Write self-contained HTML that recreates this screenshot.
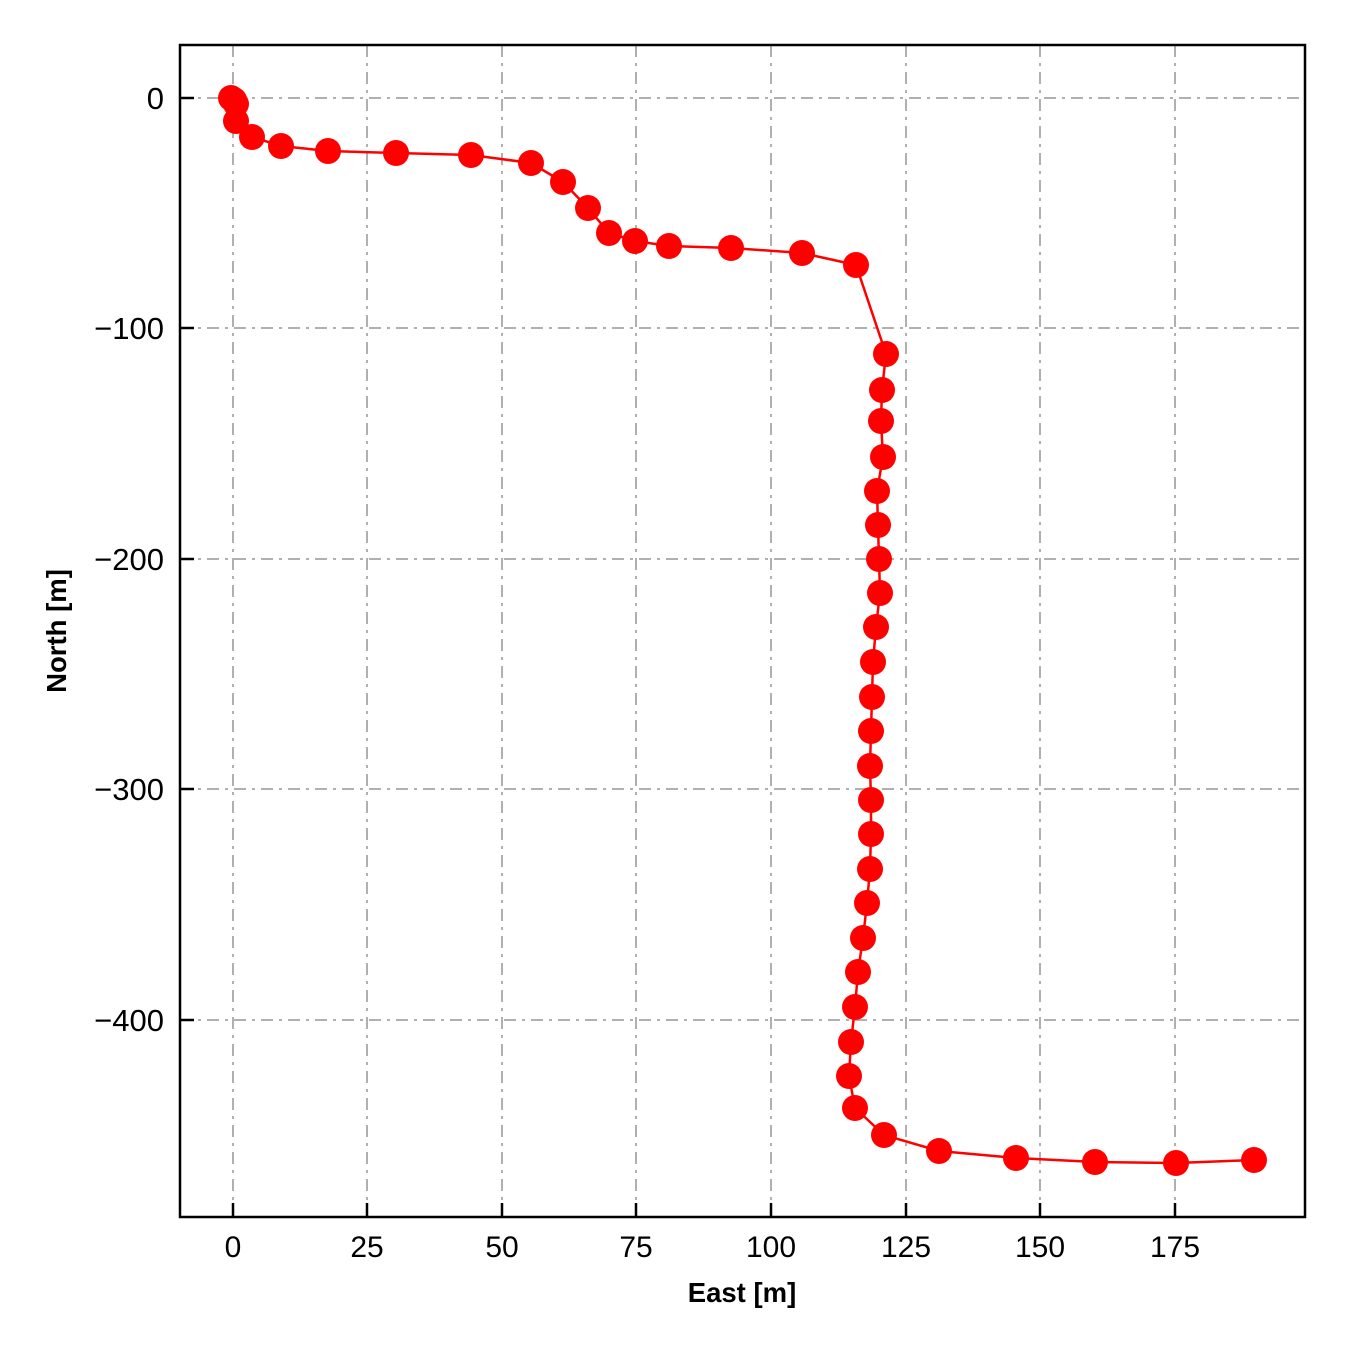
<!DOCTYPE html>
<html><head><style>body{margin:0;background:#fff}svg{display:block}</style></head>
<body>
<svg width="1350" height="1350" viewBox="0 0 1350 1350" xmlns="http://www.w3.org/2000/svg" font-family="Liberation Sans, sans-serif">
<rect width="1350" height="1350" fill="#fff"/>
<g stroke="#b0b0b0" stroke-width="2" stroke-dasharray="12,6,3,6">
<line x1="233" y1="45" x2="233" y2="1217"/><line x1="367" y1="45" x2="367" y2="1217"/><line x1="502" y1="45" x2="502" y2="1217"/><line x1="636" y1="45" x2="636" y2="1217"/><line x1="771" y1="45" x2="771" y2="1217"/><line x1="906" y1="45" x2="906" y2="1217"/><line x1="1040" y1="45" x2="1040" y2="1217"/><line x1="1175" y1="45" x2="1175" y2="1217"/>
<line x1="180" y1="98" x2="1305" y2="98"/><line x1="180" y1="328" x2="1305" y2="328"/><line x1="180" y1="559" x2="1305" y2="559"/><line x1="180" y1="789" x2="1305" y2="789"/><line x1="180" y1="1020" x2="1305" y2="1020"/>
</g>
<g stroke="#000" stroke-width="2.5">
<line x1="233" y1="1217" x2="233" y2="1203"/><line x1="367" y1="1217" x2="367" y2="1203"/><line x1="502" y1="1217" x2="502" y2="1203"/><line x1="636" y1="1217" x2="636" y2="1203"/><line x1="771" y1="1217" x2="771" y2="1203"/><line x1="906" y1="1217" x2="906" y2="1203"/><line x1="1040" y1="1217" x2="1040" y2="1203"/><line x1="1175" y1="1217" x2="1175" y2="1203"/>
<line x1="180" y1="98" x2="194" y2="98"/><line x1="180" y1="328" x2="194" y2="328"/><line x1="180" y1="559" x2="194" y2="559"/><line x1="180" y1="789" x2="194" y2="789"/><line x1="180" y1="1020" x2="194" y2="1020"/>
</g>
<polyline fill="none" stroke="#f00" stroke-width="2.5" points="231,98 234,100 236,104 236,121 252,137 281,146 328,151 396,153 471,155 531,163 563,182 588,208 609,233 635,241 669,246 731,248 802,253 856,265 886,354 882,390 881,421 883,457 877,491 878,525 879,559 880,593 876,627 873,662 872,697 871,731 870,766 871,800 871,834 870,869 867,903 863,938 858,972 855,1007 851,1042 849,1076 855,1108 884,1135 939,1151 1016,1158 1095,1162 1176,1163 1254,1160"/>
<g fill="#f00">
<circle cx="231" cy="98" r="13"/><circle cx="234" cy="100" r="13"/><circle cx="236" cy="104" r="13"/><circle cx="236" cy="121" r="13"/><circle cx="252" cy="137" r="13"/><circle cx="281" cy="146" r="13"/><circle cx="328" cy="151" r="13"/><circle cx="396" cy="153" r="13"/><circle cx="471" cy="155" r="13"/><circle cx="531" cy="163" r="13"/><circle cx="563" cy="182" r="13"/><circle cx="588" cy="208" r="13"/><circle cx="609" cy="233" r="13"/><circle cx="635" cy="241" r="13"/><circle cx="669" cy="246" r="13"/><circle cx="731" cy="248" r="13"/><circle cx="802" cy="253" r="13"/><circle cx="856" cy="265" r="13"/><circle cx="886" cy="354" r="13"/><circle cx="882" cy="390" r="13"/><circle cx="881" cy="421" r="13"/><circle cx="883" cy="457" r="13"/><circle cx="877" cy="491" r="13"/><circle cx="878" cy="525" r="13"/><circle cx="879" cy="559" r="13"/><circle cx="880" cy="593" r="13"/><circle cx="876" cy="627" r="13"/><circle cx="873" cy="662" r="13"/><circle cx="872" cy="697" r="13"/><circle cx="871" cy="731" r="13"/><circle cx="870" cy="766" r="13"/><circle cx="871" cy="800" r="13"/><circle cx="871" cy="834" r="13"/><circle cx="870" cy="869" r="13"/><circle cx="867" cy="903" r="13"/><circle cx="863" cy="938" r="13"/><circle cx="858" cy="972" r="13"/><circle cx="855" cy="1007" r="13"/><circle cx="851" cy="1042" r="13"/><circle cx="849" cy="1076" r="13"/><circle cx="855" cy="1108" r="13"/><circle cx="884" cy="1135" r="13"/><circle cx="939" cy="1151" r="13"/><circle cx="1016" cy="1158" r="13"/><circle cx="1095" cy="1162" r="13"/><circle cx="1176" cy="1163" r="13"/><circle cx="1254" cy="1160" r="13"/>
</g>
<rect x="180" y="45" width="1125" height="1172" fill="none" stroke="#000" stroke-width="2.5"/>
<g font-size="30" text-anchor="middle" fill="#000">
<text x="233" y="1257">0</text><text x="367" y="1257">25</text><text x="502" y="1257">50</text><text x="636" y="1257">75</text><text x="771" y="1257">100</text><text x="906" y="1257">125</text><text x="1040" y="1257">150</text><text x="1175" y="1257">175</text>
</g>
<g font-size="31" text-anchor="end" fill="#000">
<text x="164" y="109">0</text><text x="164" y="339">−100</text><text x="164" y="570">−200</text><text x="164" y="800">−300</text><text x="164" y="1031">−400</text>
</g>
<text x="742" y="1302" font-size="27.5" font-weight="bold" text-anchor="middle">East [m]</text>
<text transform="translate(66,631) rotate(-90)" font-size="27.5" font-weight="bold" text-anchor="middle">North [m]</text>
</svg>
</body></html>
